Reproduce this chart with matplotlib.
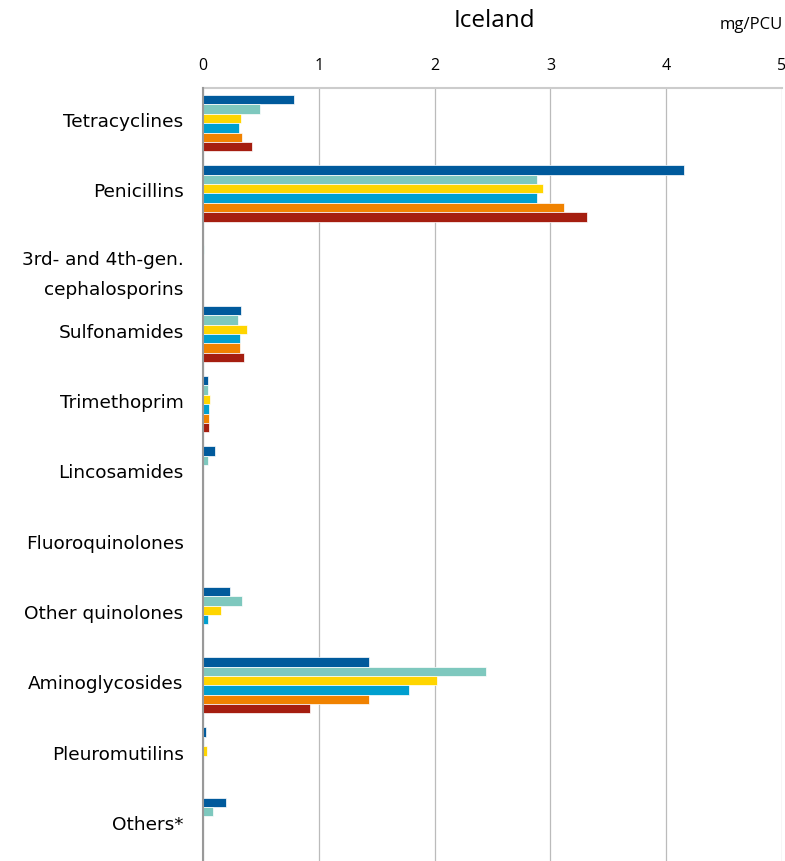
import numpy as np
import matplotlib.pyplot as plt
import matplotlib.transforms as mtransforms

categories = ["Tetracyclines", "Penicillins", "3rd- and 4th-gen.\ncephalosporins",
              "Sulfonamides", "Trimethoprim", "Lincosamides", "Fluoroquinolones",
              "Other quinolones", "Aminoglycosides", "Pleuromutilins", "Others*"]

s1 = [0.79, 4.15, 0.002, 0.33, 0.045, 0.10, 0.002, 0.235, 1.43, 0.025, 0.20]
s2 = [0.49, 2.88, 0.012, 0.30, 0.045, 0.045, 0.002, 0.34, 2.44, 0.005, 0.085]
s3 = [0.33, 2.94, 0.002, 0.38, 0.06, 0.002, 0.002, 0.155, 2.02, 0.035, 0.003]
s4 = [0.31, 2.88, 0.002, 0.32, 0.055, 0.002, 0.002, 0.045, 1.78, 0.003, 0.003]
s5 = [0.34, 3.12, 0.002, 0.32, 0.055, 0.002, 0.002, 0.002, 1.43, 0.003, 0.003]
s6 = [0.42, 3.32, 0.002, 0.35, 0.055, 0.002, 0.002, 0.002, 0.92, 0.003, 0.003]

series = [s1, s2, s3, s4, s5, s6]
colors = ["#005A9C", "#7EC8BE", "#FFD500", "#009FCF", "#F08200", "#A51E10"]

fig = plt.figure(figsize=(7.85, 8.61), dpi=100)
ax = fig.add_axes([203 / 785, 0.0, 579 / 785, 1 - 88 / 861])

n = len(series)
group = 0.8
h = group / n
y = np.arange(len(categories))
for i, (vals, c) in enumerate(zip(series, colors)):
    ax.barh(y - group / 2 + h * (i + 0.5), vals, height=h, color=c,
            edgecolor="white", linewidth=0.5, zorder=3)

ax.set_ylim(len(categories) - 0.5, -0.5)
ax.set_xlim(0, 5)
ax.set_xticks(range(6))
ax.xaxis.tick_top()
ax.tick_params(axis="x", length=0, labelsize=11.5, pad=10)
ax.tick_params(axis="y", length=0, labelsize=13.3, pad=14)
for lbl in ax.get_xticklabels():
    lbl.set_family("Open Sans")
ax.set_yticks(y)
ax.set_yticklabels(categories, linespacing=1.85)
# labels sit a little above the group centre in the original,
# the two-line one a little below
for lbl in ax.get_yticklabels():
    dy = -3 if "\n" in lbl.get_text() else 3
    shift = mtransforms.ScaledTranslation(0, dy / 100, fig.dpi_scale_trans)
    lbl.set_transform(lbl.get_transform() + shift)
ax.grid(axis="x", color="#BBBBBB", linewidth=0.9, zorder=0)

for side in ["right", "bottom"]:
    ax.spines[side].set_visible(False)
ax.spines["top"].set_color("#CCCCCC")
ax.spines["top"].set_linewidth(1.5)
ax.spines["left"].set_color("#999999")
ax.spines["left"].set_linewidth(1.5)
ax.spines["left"].set_zorder(4)

fig.text(494 / 785, 1 - 21 / 861, "Iceland", ha="center", va="center",
         fontsize=17.5, family="Open Sans")
fig.text(783 / 785, 1 - 25 / 861, "mg/PCU", ha="right", va="center",
         fontsize=12, family="Open Sans")

fig.savefig("out.png", dpi=100)
